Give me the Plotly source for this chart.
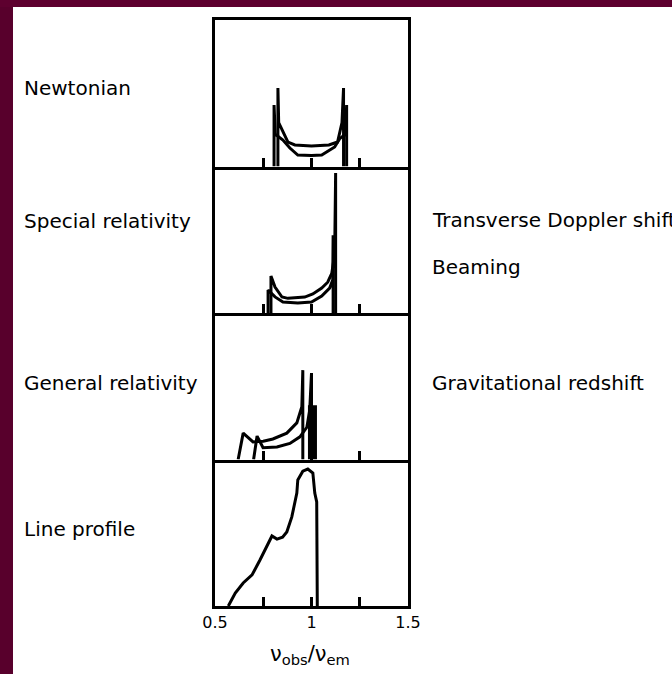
import plotly.graph_objects as go
from plotly.subplots import make_subplots

# ---------------- data ----------------
x_range = [0.5, 1.5]
tick_vals = [0.5, 0.75, 1.0, 1.25, 1.5]
tick_text = ["0.5", "", "1", "", "1.5"]
axis_title = "ν<sub>obs</sub>/ν<sub>em</sub>"

left_labels = ["Newtonian", "Special relativity", "General relativity", "Line profile"]
left_label_y = [0.884, 0.657, 0.381, 0.131]
right_labels = ["Transverse Doppler shift", "Beaming", "Gravitational redshift"]
right_label_y = [0.659, 0.579, 0.381]

# Newtonian: two rings
newt_a_x = [0.826, 0.826, 0.83, 0.878, 0.914, 1.0, 1.09, 1.135, 1.158, 1.166, 1.166]
newt_a_y = [0.0, 0.536, 0.30, 0.167, 0.147, 0.14, 0.147, 0.167, 0.30, 0.536, 0.0]
newt_b_x = [0.806, 0.806, 0.812, 0.852, 0.888, 0.929, 1.0, 1.053, 1.12, 1.146, 1.176, 1.182, 1.182]
newt_b_y = [0.0, 0.42, 0.22, 0.18, 0.126, 0.078, 0.075, 0.078, 0.133, 0.19, 0.22, 0.42, 0.0]

# Special relativity
sr_a_x = [0.79, 0.79, 0.811, 0.847, 0.878, 0.965, 1.007, 1.053, 1.084, 1.105, 1.12, 1.125, 1.125]
sr_a_y = [0.0, 0.253, 0.177, 0.109, 0.10, 0.109, 0.13, 0.17, 0.21, 0.27, 0.40, 0.956, 0.0]
sr_b_x = [0.775, 0.775, 0.811, 0.852, 0.929, 1.0, 1.053, 1.094, 1.11, 1.112, 1.112]
sr_b_y = [0.0, 0.157, 0.11, 0.075, 0.068, 0.075, 0.116, 0.17, 0.225, 0.53, 0.0]

# General relativity
gr_a_x = [0.62, 0.646, 0.697, 0.75, 0.80, 0.872, 0.924, 0.95, 0.955, 0.955]
gr_a_y = [0.0, 0.18, 0.12, 0.125, 0.14, 0.18, 0.25, 0.36, 0.61, 0.0]
gr_b_x = [0.70, 0.718, 0.749, 0.821, 0.888, 0.94, 0.976, 0.991, 1.0, 1.0]
gr_b_y = [0.0, 0.16, 0.08, 0.085, 0.11, 0.155, 0.22, 0.34, 0.59, 0.0]
gr_block_x = [1.005, 1.005]
gr_block_y = [0.0, 0.37]

# Line profile
lp_x = [0.569, 0.605, 0.646, 0.692, 0.733, 0.77, 0.795, 0.821, 0.85, 0.872, 0.898,
        0.924, 0.929, 0.955, 0.981, 1.007, 1.017, 1.027, 1.03]
lp_y = [0.0, 0.088, 0.157, 0.212, 0.314, 0.416, 0.478, 0.457, 0.47, 0.505, 0.608,
        0.771, 0.86, 0.92, 0.935, 0.908, 0.771, 0.71, 0.0]

# ---------------- figure ----------------
fig = make_subplots(rows=4, cols=1, shared_xaxes=True, vertical_spacing=0)

line_style = dict(color="black", width=3)
panels = [
    [(newt_a_x, newt_a_y), (newt_b_x, newt_b_y)],
    [(sr_a_x, sr_a_y), (sr_b_x, sr_b_y)],
    [(gr_a_x, gr_a_y), (gr_b_x, gr_b_y)],
    [(lp_x, lp_y)],
]
for r, traces in enumerate(panels, start=1):
    for xs, ys in traces:
        fig.add_trace(go.Scatter(x=xs, y=ys, mode="lines", line=line_style,
                                 showlegend=False, hoverinfo="skip"), row=r, col=1)
fig.add_trace(go.Scatter(x=gr_block_x, y=gr_block_y, mode="lines",
                         line=dict(color="black", width=9), showlegend=False,
                         hoverinfo="skip"), row=3, col=1)

for r in range(1, 5):
    fig.update_xaxes(range=x_range, tickvals=tick_vals, ticktext=tick_text,
                     ticks="inside", ticklen=9, tickwidth=3, tickcolor="black",
                     showline=True, linewidth=3, linecolor="black", mirror=(r == 1),
                     showgrid=False, zeroline=False, showticklabels=(r == 4),
                     tickfont=dict(family="DejaVu Sans", size=16, color="black"),
                     row=r, col=1)
    fig.update_yaxes(range=[0, 1], showline=True, linewidth=3, linecolor="black",
                     mirror=True, showgrid=False, zeroline=False, ticks="",
                     showticklabels=False, row=r, col=1)

W, H = 672, 674
ml, mr, mt, mb = 215, 264, 20, 68
pw, ph = W - ml - mr, H - mt - mb

def px_x(p):
    return (p - ml) / pw

def px_y(p):
    return (H - mb - p) / ph

annotations = []
font = dict(family="DejaVu Sans", size=20, color="black")
for txt, y in zip(left_labels, left_label_y):
    annotations.append(dict(text=txt, x=px_x(22), y=y, xref="paper", yref="paper",
                            xanchor="left", yanchor="middle", showarrow=False, font=font))
for txt, y in zip(right_labels, right_label_y):
    annotations.append(dict(text=txt, x=px_x(430), y=y, xref="paper", yref="paper",
                            xanchor="left", yanchor="middle", showarrow=False, font=font))
annotations.append(dict(text=axis_title, x=px_x(310), y=px_y(655), xref="paper", yref="paper",
                        xanchor="center", yanchor="middle", showarrow=False,
                        font=dict(family="DejaVu Sans", size=21, color="black")))

shapes = [
    dict(type="rect", xref="paper", yref="paper", x0=px_x(0), x1=px_x(13),
         y0=px_y(H), y1=px_y(0), fillcolor="#58002c", line=dict(width=0), layer="above"),
    dict(type="rect", xref="paper", yref="paper", x0=px_x(0), x1=px_x(W),
         y0=px_y(7), y1=px_y(0), fillcolor="#5e002f", line=dict(width=0), layer="above"),
]

fig.update_layout(width=W, height=H, margin=dict(l=ml, r=mr, t=mt, b=mb),
                  paper_bgcolor="white", plot_bgcolor="white",
                  annotations=annotations, shapes=shapes)

fig.write_html("out.html", config={"displayModeBar": False},
               post_script="document.body.style.margin='0';")
